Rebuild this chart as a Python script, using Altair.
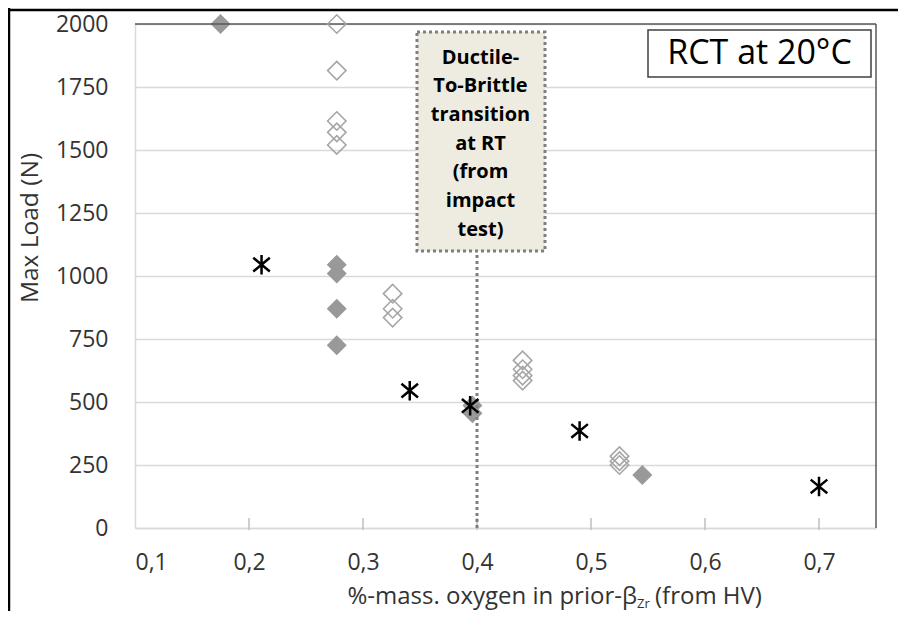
import altair as alt
import pandas as pd

# ---------------- data ----------------
x_ticks = [0.1, 0.2, 0.3, 0.4, 0.5, 0.6, 0.7]
y_ticks = [0, 250, 500, 750, 1000, 1250, 1500, 1750, 2000]

filled_x = [0.175, 0.277, 0.277, 0.277, 0.277, 0.396, 0.396, 0.545]
filled_y = [2000, 1045, 1010, 870, 725, 486, 455, 210]

open_x = [0.277, 0.277, 0.277, 0.277, 0.277,
          0.326, 0.326, 0.326,
          0.44, 0.44, 0.44, 0.44,
          0.525, 0.525, 0.525]
open_y = [2000, 1815, 1615, 1570, 1520,
          930, 870, 835,
          665, 630, 605, 585,
          285, 265, 250]

star_x = [0.211, 0.341, 0.394, 0.49, 0.70]
star_y = [1045, 545, 485, 385, 165]

dbt_x = [0.4]
note_lines = ["Ductile-", "To-Brittle", "transition", "at RT", "(from", "impact", "test)"]

# ---------------- layout ----------------
W, H = 741, 504
FONT = "Open Sans"
TXT = "#333333"
GRID = "#d9d9d9"

xscale = alt.Scale(domain=[0.1, 0.75], nice=False, zero=False)
yscale = alt.Scale(domain=[0, 2000], nice=False)

x_axis = alt.Axis(values=x_ticks,
                  labelExpr="replace(format(datum.value, '.1f'), '.', ',')",
                  grid=False, ticks=False, domainColor=GRID, domainWidth=1.5,
                  labelFont=FONT, labelFontSize=23, labelColor=TXT,
                  labelPadding=23, title=None)
y_axis = alt.Axis(values=y_ticks, format="d", grid=True, gridColor=GRID,
                  gridWidth=1.5, ticks=False, domainColor=GRID, domainWidth=1.5,
                  labelFont=FONT, labelFontSize=23, labelColor=TXT,
                  labelPadding=27, title=None)

X = lambda: alt.X("x:Q", scale=xscale, axis=x_axis)
Y = lambda: alt.Y("y:Q", scale=yscale, axis=y_axis)

one = pd.DataFrame({"a": [0]})

# frame and plot-area border
frame_top = alt.Chart(one).mark_rule(color="black", strokeWidth=2.5).encode(
    x=alt.value(-127), x2=alt.value(763), y=alt.value(-14))
frame_left = alt.Chart(one).mark_rule(color="black", strokeWidth=2.5).encode(
    x=alt.value(-126), y=alt.value(-16), y2=alt.value(600))
plot_top = alt.Chart(one).mark_rule(color="#595959", strokeWidth=1.5).encode(
    x=alt.value(0), x2=alt.value(W), y=alt.value(0))
plot_right = alt.Chart(one).mark_rule(color="#595959", strokeWidth=1.5).encode(
    x=alt.value(W), y=alt.value(0), y2=alt.value(H))

# small inward ticks on x axis
xt = alt.Chart(pd.DataFrame({"x": x_ticks[1:]})).mark_rule(
    color="#bfbfbf", strokeWidth=1.5).encode(
    x=X(), y=alt.value(H + 2), y2=alt.value(H - 10))

# series
filled = alt.Chart(pd.DataFrame({"x": filled_x, "y": filled_y})).mark_point(
    shape="diamond", filled=True, size=400, color="#999999", opacity=1).encode(
    x=X(), y=Y())

opened = alt.Chart(pd.DataFrame({"x": open_x, "y": open_y})).mark_point(
    shape="diamond", filled=False, size=340, stroke="#a6a6a6",
    strokeWidth=1.6, opacity=1).encode(
    x=X(), y=Y())

stars = alt.Chart(pd.DataFrame({"x": star_x, "y": star_y})).mark_point(
    shape="M0,-1L0,1M-0.85,-0.7L0.85,0.7M-0.85,0.7L0.85,-0.7",
    filled=False, size=380, stroke="black", strokeWidth=2.5, opacity=1).encode(
    x=X(), y=Y())

# DBT transition line and note box
dbt_line = alt.Chart(pd.DataFrame({"x": dbt_x})).mark_rule(
    color="#7f7f7f", strokeWidth=3, strokeDash=[3, 3]).encode(
    x=X(), y=alt.value(H), y2=alt.value(228))

note_box = alt.Chart(one).mark_rect(
    fill="#eeece1", stroke="#7f7f7f", strokeWidth=3, strokeDash=[3, 3]).encode(
    x=alt.value(282), x2=alt.value(410), y=alt.value(8), y2=alt.value(227))

note_text = alt.Chart(one).mark_text(
    text=note_lines, font=FONT, fontSize=20, fontWeight="bold", color="black",
    align="center", baseline="top", lineHeight=28.7).encode(
    x=alt.value(345.5), y=alt.value(23.5))

rct_box = alt.Chart(one).mark_rect(
    fill="white", stroke="#404040", strokeWidth=1.5).encode(
    x=alt.value(513), x2=alt.value(736), y=alt.value(6), y2=alt.value(53))
rct_text = alt.Chart(one).mark_text(
    text="RCT at 20°C", font=FONT, fontSize=34, color="black",
    align="center", baseline="middle").encode(
    x=alt.value(624.5), y=alt.value(30))

# axis titles
y_title = alt.Chart(one).mark_text(
    text="Max Load (N)", font=FONT, fontSize=24.5, color=TXT, angle=270,
    align="center", baseline="middle").encode(
    x=alt.value(-104), y=alt.value(204))
x_title1 = alt.Chart(one).mark_text(
    text="%-mass. oxygen in prior-β", font=FONT, fontSize=24, color=TXT,
    align="right", baseline="alphabetic").encode(
    x=alt.value(502), y=alt.value(580))
x_title2 = alt.Chart(one).mark_text(
    text="Zr", font=FONT, fontSize=13, color=TXT,
    align="left", baseline="alphabetic").encode(
    x=alt.value(502), y=alt.value(584))
x_title3 = alt.Chart(one).mark_text(
    text="(from HV)", font=FONT, fontSize=24, color=TXT,
    align="left", baseline="alphabetic").encode(
    x=alt.value(520), y=alt.value(580))

chart = alt.layer(
    filled, xt, plot_top, plot_right, note_box, dbt_line, note_text,
    rct_box, rct_text, opened, stars,
    frame_top, frame_left, y_title, x_title1, x_title2, x_title3
).properties(
    width=W, height=H,
    padding={"left": 127, "top": 16, "right": 22, "bottom": 83},
    autosize=alt.AutoSizeParams(type="none"),
).configure_view(stroke=None)

chart.save("out.html", embed_options={"renderer": "svg", "actions": False})
